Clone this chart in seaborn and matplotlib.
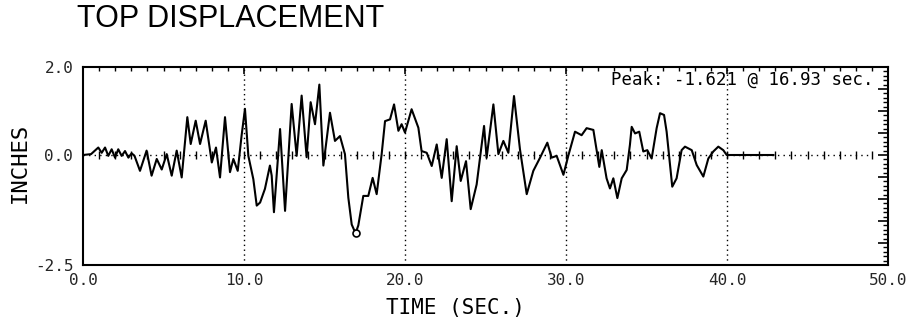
import matplotlib
matplotlib.use("Agg")
import matplotlib.pyplot as plt
import numpy as np
import pandas as pd
import seaborn as sns
from matplotlib.ticker import FixedLocator, MultipleLocator, FuncFormatter

# ---------------- data ----------------
time_s = [0.0, 0.5, 0.95, 1.16, 1.37, 1.57, 1.78, 1.99, 2.19, 2.4, 2.61, 2.82,
          3.02, 3.2, 3.54, 3.95, 4.26, 4.58, 4.89, 5.2, 5.51, 5.82, 6.13,
          6.48, 6.69, 7.0, 7.27, 7.62, 7.85, 8.0, 8.26, 8.51, 8.82, 9.13,
          9.34, 9.61, 9.85, 10.06, 10.27, 10.58, 10.79, 11.0, 11.3, 11.61,
          11.72, 11.86, 12.24, 12.55, 12.75, 12.96, 13.27, 13.58, 13.89,
          14.14, 14.41, 14.68, 14.93, 15.34, 15.65, 15.96, 16.27, 16.48,
          16.69, 16.93, 17.1, 17.41, 17.72, 17.99, 18.24, 18.55, 18.76,
          19.07, 19.32, 19.59, 19.79, 20.0, 20.41, 20.83, 21.03, 21.35,
          21.66, 21.97, 22.28, 22.59, 22.9, 23.21, 23.46, 23.79, 24.08,
          24.45, 24.91, 25.07, 25.49, 25.8, 26.11, 26.42, 26.77, 27.14,
          27.56, 27.97, 28.39, 28.84, 29.11, 29.42, 29.84, 30.14, 30.56,
          30.97, 31.28, 31.7, 31.9, 32.07, 32.22, 32.52, 32.73, 32.94,
          33.19, 33.46, 33.77, 33.97, 34.08, 34.29, 34.55, 34.8, 35.05,
          35.32, 35.63, 35.84, 36.09, 36.25, 36.6, 36.87, 37.18, 37.39,
          37.81, 38.12, 38.53, 38.84, 39.15, 39.46, 39.77, 39.98, 42.9]
disp_in = [0.0, 0.02, 0.17, 0.05, 0.17, -0.02, 0.13, -0.06, 0.13, -0.02, 0.09,
           -0.06, 0.04, -0.02, -0.36, 0.10, -0.47, -0.09, -0.33, 0.02, -0.47,
           0.10, -0.51, 0.86, 0.25, 0.78, 0.25, 0.78, 0.21, -0.17, 0.17,
           -0.51, 0.86, -0.39, -0.09, -0.36, 0.44, 1.05, -0.02, -0.55, -1.15,
           -1.08, -0.77, -0.24, -0.47, -1.30, 0.59, -1.27, -0.09, 1.16, -0.02,
           1.35, -0.05, 1.20, 0.70, 1.60, -0.24, 0.96, 0.32, 0.43, 0.02,
           -0.97, -1.58, -1.78, -1.60, -0.93, -0.93, -0.52, -0.89, 0.02, 0.77,
           0.81, 1.15, 0.55, 0.70, 0.51, 1.04, 0.62, 0.09, 0.05, -0.25, 0.24,
           -0.52, 0.36, -1.05, 0.20, -0.59, -0.14, -1.23, -0.67, 0.66, -0.06,
           1.15, 0.02, 0.32, 0.05, 1.34, 0.13, -0.89, -0.36, -0.06, 0.28,
           -0.06, -0.02, -0.45, -0.02, 0.53, 0.45, 0.61, 0.57, 0.11, -0.27,
           0.11, -0.53, -0.76, -0.53, -0.98, -0.53, -0.34, 0.23, 0.64, 0.49,
           0.53, 0.08, 0.11, -0.08, 0.61, 0.95, 0.91, 0.53, -0.72, -0.53,
           0.11, 0.19, 0.11, -0.23, -0.49, -0.08, 0.08, 0.19, 0.11, 0.0, 0.0]

title_text = "TOP DISPLACEMENT"
x_label = "TIME (SEC.)"
y_label = "INCHES"
x_ticks = [0, 10, 20, 30, 40, 50]
y_tick_labels = {2.0: "2.0", 0.0: "0.0", -2.5: "-2.5"}
grid_x = [10, 20, 30, 40]
peak_text = "Peak: -1.621 @ 16.93 sec."
peak_time = 16.93
peak_value = -1.78
zero_marks = list(range(1, 50))

# ---------------- figure ----------------
sns.set_style("white")
plt.rcParams["font.family"] = ["DejaVu Sans Mono", "DejaVu Sans"]
mono = "DejaVu Sans Mono"

W, H = 909, 330
fig = plt.figure(figsize=(W / 100, H / 100), dpi=100)
ax = fig.add_axes([83 / W, 1 - 265 / H, (888 - 83) / W, (265 - 67) / H])

df = pd.DataFrame({"t": time_s, "d": disp_in})

# reference dotted lines
for gx in grid_x:
    ax.axvline(gx, color="black", lw=1.0, ls=(0, (1, 2.5)), zorder=1)
ax.plot([0, 49], [0, 0], color="black", lw=1.0, ls=(0, (1, 3)), zorder=1)
ax.plot(zero_marks, [0] * len(zero_marks), ls="none", marker="|",
        color="black", ms=6, mew=1.0, zorder=1)

sns.lineplot(data=df, x="t", y="d", ax=ax, color="black", lw=1.5,
             estimator=None, sort=False, zorder=3)
ax.plot([peak_time], [peak_value], marker="o", ms=5, mfc="white",
        mec="black", mew=1.2, zorder=4)

ax.set_xlim(0, 50)
ax.set_ylim(-2.5, 2.0)

for s in ax.spines.values():
    s.set_visible(True)
    s.set_color("black")
    s.set_linewidth(1.5)

ax.xaxis.set_major_locator(FixedLocator(x_ticks))
ax.xaxis.set_minor_locator(MultipleLocator(1))
ax.xaxis.set_major_formatter(FuncFormatter(lambda v, p: f"{v:.1f}"))
ax.yaxis.set_major_locator(FixedLocator([-2.5, -2.0, -1.5, -1.0, -0.5, 0.0,
                                         0.5, 1.0, 1.5, 2.0]))
ax.yaxis.set_minor_locator(MultipleLocator(0.1))
ax.yaxis.set_major_formatter(FuncFormatter(
    lambda v, p: y_tick_labels.get(round(v, 2), "")))

ax.tick_params(which="both", direction="in", top=True, right=True,
               color="black")
ax.tick_params(which="major", length=7, width=1.2, labelsize=11.5, pad=7)
ax.tick_params(which="minor", length=3.5, width=1.0)
ax.tick_params(axis="x", which="major", length=5, pad=6)
ax.tick_params(axis="x", which="minor", length=3)
for lab in ax.get_xticklabels() + ax.get_yticklabels():
    lab.set_fontfamily(mono)

ax.set_xlabel("")
ax.set_ylabel("")

ax.text(49.1, 1.70, peak_text, ha="right", va="center", fontsize=12.5,
        family=mono, color="black")

fig.text(77 / W, 1 - 19 / H, title_text, ha="left", va="center",
         fontsize=22, family="Liberation Sans", color="black")
fig.text(20 / W, 1 - 163 / H, y_label, rotation=90, ha="center",
         va="center", fontsize=16, family=mono, color="black")
fig.text(455 / W, 1 - 308 / H, x_label, ha="center", va="center",
         fontsize=15, family=mono, color="black")

fig.savefig("out.png", dpi=100, facecolor="white")
